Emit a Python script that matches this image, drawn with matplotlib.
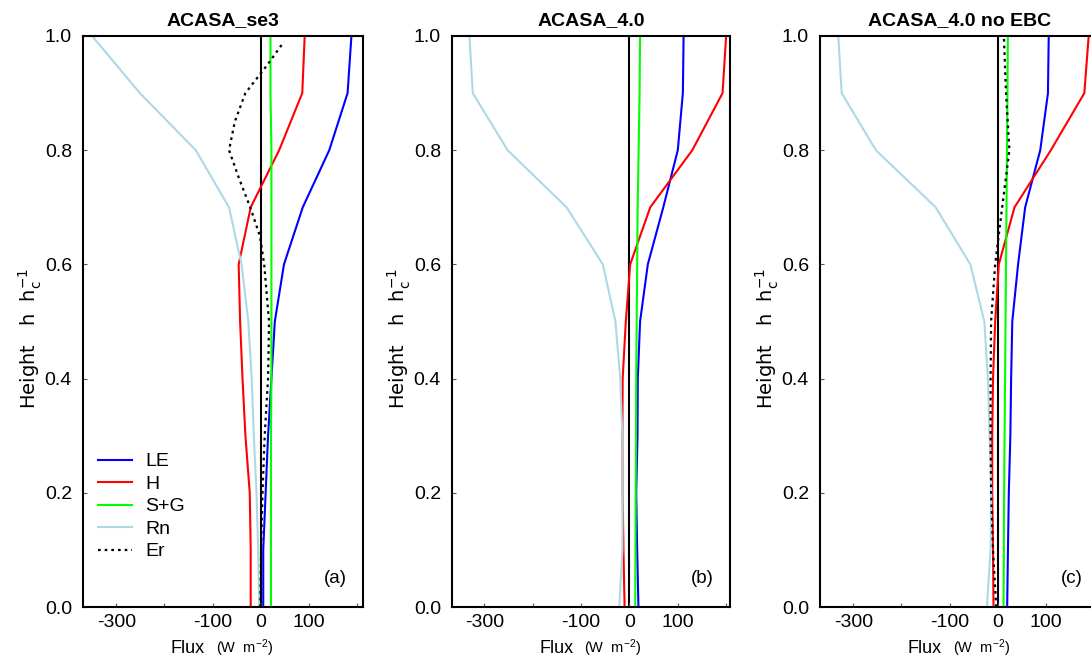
import matplotlib
matplotlib.use("Agg")
import matplotlib.pyplot as plt

plt.rcParams['font.family'] = ['Liberation Sans', 'DejaVu Sans']
plt.rcParams['mathtext.default'] = 'regular'

# heights (h / hc)
heights = [0.0, 0.1, 0.2, 0.3, 0.4, 0.5, 0.6, 0.7, 0.8, 0.9, 1.0]
er_heights = [0.0, 0.1, 0.2, 0.3, 0.4, 0.5, 0.6, 0.65, 0.7, 0.75, 0.8, 0.85, 0.9, 0.95, 0.99]

# (a) ACASA_se3
le_a = [5, 5, 10, 15, 22, 29, 48, 87, 142, 180, 188]
h_a = [-21, -21, -23, -32, -38, -43, -46, -21, 38, 86, 91]
sg_a = [21, 21, 21, 21, 22, 22, 22, 22, 22, 20, 20]
rn_a = [-3.5, -5.6, -9, -14.5, -19, -26, -40, -66, -135, -251, -350]
er_a = [-1, 0.5, 3.5, 8, 15, 17, 7, -2, -22, -45, -66, -54, -32, 14, 48]

# (b) ACASA_4.0
le_b = [18.6, 16, 14, 16.7, 17.3, 22, 38, 70, 100, 110.5, 112]
h_b = [-10, -12.4, -14, -14.6, -14, -7.5, 1.5, 43, 130, 192.6, 200]
sg_b = [12, 12.5, 13, 13.5, 14, 15, 16, 17, 19, 21, 22]
rn_b = [-21, -14.6, -14, -14.6, -19, -29, -55, -130, -252, -324, -331]

# (c) ACASA_4.0 no EBC
le_c = [19.4, 21, 22.8, 26, 27.6, 30, 42, 56.7, 88, 104, 105.6]
h_c = [-9, -10, -11.6, -11.6, -10, -5.5, 2, 34.6, 110, 179.5, 188.5]
sg_c = [11.8, 12.5, 13, 14, 15, 16, 17, 18, 19, 20, 20.8]
rn_c = [-22.7, -15, -13.7, -17, -20.6, -28, -57, -129, -253, -324, -331]
er_c = [-3.5, -10, -14, -15, -15, -14, -5.5, 9, 24, 17, 12.5]

titles = ["ACASA_se3", "ACASA_4.0", "ACASA_4.0 no EBC"]
tags = ["(a)", "(b)", "(c)"]
xticks = [-300, -200, -100, 0, 100, 200]
xticklabels = ["-300", "", "-100", "0", "100", ""]

panels = [
    dict(le=le_a, h=h_a, sg=sg_a, rn=rn_a, er=er_a, er_h=er_heights),
    dict(le=le_b, h=h_b, sg=sg_b, rn=rn_b, er=None, er_h=None),
    dict(le=le_c, h=h_c, sg=sg_c, rn=rn_c, er=er_c, er_h=heights),
]

W, H = 1091, 661
fig = plt.figure(figsize=(W / 100, H / 100), dpi=100)
lefts = [83, 452, 820]
widths = [280, 278, 280]
xlims = [(-369, 212), (-367, 208), (-369, 212)]
top, bottom = 36, 607

for i, p in enumerate(panels):
    ax = fig.add_axes([lefts[i] / W, (H - bottom) / H, widths[i] / W, (bottom - top) / H])
    ax.axvline(0, color='k', lw=1.5, zorder=1)
    ax.plot(p['le'], heights, color='#0000ff', lw=1.5, label='LE')
    ax.plot(p['h'], heights, color='#ff0000', lw=1.5, label='H')
    ax.plot(p['sg'], heights, color='#00ff00', lw=1.5, label='S+G')
    ax.plot(p['rn'], heights, color='#add8e6', lw=1.5, label='Rn')
    if p['er'] is not None:
        ax.plot(p['er'], p['er_h'], color='k', lw=1.6, ls=(0, (1.2, 1.8)), label='Er')
    ax.set_xlim(*xlims[i])
    ax.set_ylim(0, 1.0)
    ax.set_xticks(xticks)
    ax.set_xticklabels(xticklabels)
    ax.set_yticks([0, 0.2, 0.4, 0.6, 0.8, 1.0])
    ax.set_yticklabels(["0.0", "0.2", "0.4", "0.6", "0.8", "1.0"])
    ax.tick_params(direction='in', length=3, width=0.8, color='#555555', labelsize=14)
    ax.tick_params(axis='x', pad=5)
    ax.tick_params(axis='y', pad=8)
    for s in ax.spines.values():
        s.set_linewidth(1.5)
    ax.set_title(titles[i], fontsize=14, fontweight='bold', pad=8)
    ax.set_ylabel('Height   h  h$_c^{-1}$', fontsize=14, family='DejaVu Sans')
    ax.yaxis.set_label_coords(-0.14, 0.47)
    ax.text(0.436, -0.072, 'Flux', transform=ax.transAxes, ha='right', va='center', fontsize=13)
    ax.text(0.475, -0.072, '(W  m$^{-2}$)', transform=ax.transAxes, ha='left', va='center', fontsize=10.5)
    ax.text(0.9, 0.05, tags[i], transform=ax.transAxes, ha='center', va='center', fontsize=13.5)
    if i == 0:
        ax.legend(loc='upper left', bbox_to_anchor=(0.054, 0.27), frameon=False,
                  fontsize=14, handlelength=1.75, handletextpad=0.67,
                  labelspacing=0.25, borderpad=0, borderaxespad=0)

fig.savefig('out.png', dpi=100)
plt.close()
